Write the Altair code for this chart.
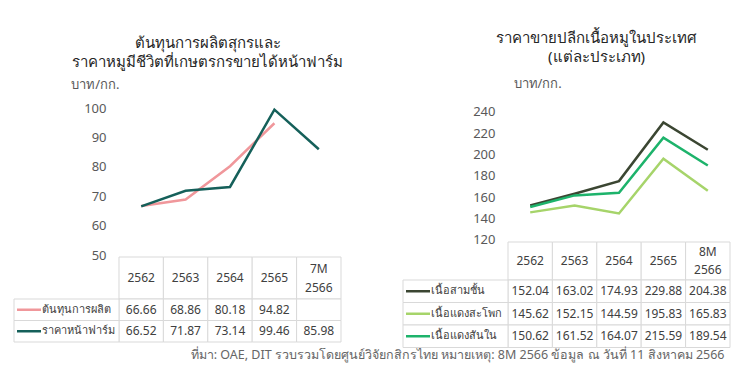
import altair as alt
import pandas as pd

# ---------------- data ----------------
left_title = ["ต้นทุนการผลิตสุกรและ", "ราคาหมูมีชีวิตที่เกษตรกรขายได้หน้าฟาร์ม"]
left_years = ["2562", "2563", "2564", "2565", "7M 2566"]
left_series = ["ต้นทุนการผลิต", "ราคาหน้าฟาร์ม"]
left_cost = [66.66, 68.86, 80.18, 94.82, None]
left_farm = [66.52, 71.87, 73.14, 99.46, 85.98]
left_colors = ["#f0979b", "#15605a"]
left_ticks = [50, 60, 70, 80, 90, 100]

right_title = ["ราคาขายปลีกเนื้อหมูในประเทศ", "(แต่ละประเภท)"]
right_years = ["2562", "2563", "2564", "2565", "8M 2566"]
right_series = ["เนื้อสามชั้น", "เนื้อแดงสะโพก", "เนื้อแดงสันใน"]
right_samchan = [152.04, 163.02, 174.93, 229.88, 204.38]
right_sapok = [145.62, 152.15, 144.59, 195.83, 165.83]
right_sannai = [150.62, 161.52, 164.07, 215.59, 189.54]
right_colors = ["#3b4632", "#a6d46a", "#1db36b"]
right_ticks = [120, 140, 160, 180, 200, 220, 240]

unit_label = "บาท/กก."
footnote = "ที่มา: OAE, DIT รวบรวมโดยศูนย์วิจัยกสิกรไทย    หมายเหตุ: 8M 2566 ข้อมูล ณ วันที่ 11 สิงหาคม 2566"

FONT = "Noto Sans"
GRID = "#d9d9d9"
TEXT = "#404040"
LABEL_W = 105
PANEL_W = 327


def make_panel(years, series, values, colors, ticks, y_max, line_h, header_h, row_h,
               title, title_dy, title_offset, unit_align, unit_x, unit_y, header_lh):
    rows = []
    for s, vals in zip(series, values):
        for y, v in zip(years, vals):
            rows.append({"year": y, "series": s, "value": v})
    df = pd.DataFrame(rows)
    line_df = df.dropna()

    xpoint = alt.Scale(type="point", domain=years, range=[LABEL_W, PANEL_W], padding=0.5)
    xband = alt.Scale(type="band", domain=years, range=[LABEL_W, PANEL_W],
                      paddingInner=0, paddingOuter=0)
    cscale = alt.Scale(domain=series, range=colors)

    line = alt.Chart(line_df).mark_line(strokeWidth=2.5).encode(
        x=alt.X("year:N", scale=xpoint, axis=None),
        y=alt.Y("value:Q",
                scale=alt.Scale(domain=[ticks[0], y_max], nice=False, zero=False),
                axis=alt.Axis(values=ticks, offset=-LABEL_W, labelPadding=13,
                              domain=False, ticks=False, grid=False,
                              labelFont=FONT, labelFontSize=13, labelColor="#595959",
                              title=unit_label, titleAngle=0, titleAlign=unit_align,
                              titleBaseline="middle", titleX=unit_x, titleY=unit_y,
                              titleFont=FONT, titleFontSize=13, titleFontWeight="normal",
                              titleColor="#595959")),
        color=alt.Color("series:N", scale=cscale, legend=None),
        order=alt.Order("year:N"),
    ).properties(
        width=PANEL_W, height=line_h,
        title=alt.TitleParams(title, font=FONT, fontSize=15, fontWeight="normal",
                              color="#262626", anchor="middle", dx=30, dy=title_dy,
                              offset=title_offset, lineHeight=19),
    )

    hdf = pd.DataFrame({"year": years})
    header_cells = alt.Chart(hdf).mark_rect(fill="white", stroke=GRID, strokeWidth=1).encode(
        x=alt.X("year:N", scale=xband, axis=None),
        y=alt.value(0), y2=alt.value(header_h),
    )
    header_single = alt.Chart(hdf).transform_filter(
        "indexof(datum.year, ' ') < 0"
    ).mark_text(font=FONT, fontSize=12, color=TEXT).encode(
        x=alt.X("year:N", scale=xband, axis=None),
        y=alt.value(header_h / 2),
        text="year:N",
    )
    header_multi = alt.Chart(hdf).transform_filter(
        "indexof(datum.year, ' ') >= 0"
    ).mark_text(lineBreak=" ", font=FONT, fontSize=12, color=TEXT, lineHeight=header_lh).encode(
        x=alt.X("year:N", scale=xband, axis=None),
        y=alt.value(header_h / 2 - header_lh / 2),
        text="year:N",
    )
    header = alt.layer(header_cells, header_single, header_multi).properties(
        width=PANEL_W, height=header_h)

    yband = alt.Scale(type="band", domain=series, paddingInner=0, paddingOuter=0)
    body_cells = alt.Chart(df).mark_rect(fill="white", stroke=GRID, strokeWidth=1).encode(
        x=alt.X("year:N", scale=xband, axis=None),
        y=alt.Y("series:N", scale=yband, axis=None),
    )
    label_cells = alt.Chart(pd.DataFrame({"series": series})).mark_rect(
        fill="white", stroke=GRID, strokeWidth=1
    ).encode(
        x=alt.value(0), x2=alt.value(LABEL_W),
        y=alt.Y("series:N", scale=yband, axis=None),
    )
    swatch = alt.Chart(pd.DataFrame({"series": series})).mark_rule(strokeWidth=2.5).encode(
        x=alt.value(3), x2=alt.value(27),
        y=alt.Y("series:N", scale=yband, axis=None),
        color=alt.Color("series:N", scale=cscale, legend=None),
    )
    label_text = alt.Chart(pd.DataFrame({"series": series})).mark_text(
        align="left", font=FONT, fontSize=11, color=TEXT
    ).encode(
        x=alt.value(28),
        y=alt.Y("series:N", scale=yband, axis=None),
        text="series:N",
    )
    value_text = alt.Chart(line_df).mark_text(font=FONT, fontSize=12, color=TEXT).encode(
        x=alt.X("year:N", scale=xband, axis=None),
        y=alt.Y("series:N", scale=yband, axis=None),
        text=alt.Text("value:Q", format=".2f"),
    )
    body = alt.layer(body_cells, label_cells, swatch, label_text, value_text).properties(
        width=PANEL_W, height=row_h * len(series)
    )

    table = alt.vconcat(header, body, spacing=0, bounds="flush").resolve_scale(
        x="independent", y="independent", color="independent")
    return alt.vconcat(line, table, spacing=2, bounds="flush").resolve_scale(
        x="independent", y="independent", color="independent")


left = make_panel(left_years, left_series, [left_cost, left_farm], left_colors, left_ticks,
                  100, 147, 42, 21.5, left_title, 1.5, 10, "right", 0, -24, 19)
right = make_panel(right_years, right_series, [right_samchan, right_sapok, right_sannai],
                   right_colors, right_ticks, 243.47, 131.7, 38, 22.5, right_title, 3, 15,
                   "left", 5, -24.7, 18)

chart = alt.hconcat(left, right, spacing=59).resolve_scale(
    x="independent", y="independent", color="independent"
).properties(
    padding={"left": 5, "top": 23, "right": 5, "bottom": 5},
    title=alt.TitleParams(footnote, orient="bottom", anchor="end", font=FONT, fontSize=12.5,
                          fontWeight="normal", color="#666666", offset=1, dx=-6),
).configure_view(stroke=None)

chart.save("out.html", embed_options={"renderer": "svg", "actions": False})
